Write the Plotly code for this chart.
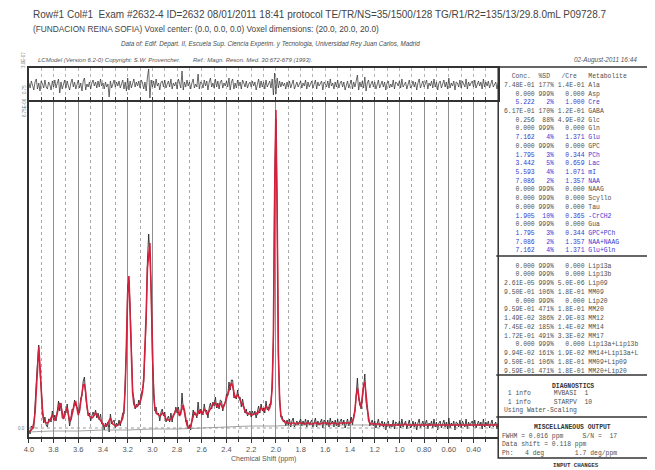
import numpy as np
import plotly.graph_objects as go

# browser window 655x470; the page body has an 8 px default margin
WIN_W, WIN_H = 655, 470
OFF = 8
W, H = WIN_W - OFF, WIN_H - OFF

# ---------------- data ----------------
# chemical-shift grid 4.00 -> 0.20 ppm (0.01 ppm step)
ppm = np.round(np.arange(400, 19, -1) / 100.0, 2)

# LCModel fit (red), in plot units (baseline zero = 0)
fit = [
    -4, -3, -2, 0, 5, 15, 40, 70, 81, 62,
    32, 15, 8, 6, 5, 5, 6, 8, 11, 13,
    10, 8, 10, 15, 21, 25, 22, 14, 9, 12,
    18, 20, 13, 7, 8, 13, 20, 25, 26, 20,
    13, 18, 28, 38, 43, 44, 36, 22, 14, 12,
    11, 10, 11, 13, 15, 13, 11, 10, 8, 5,
    3, 2, 2, 3, 5, 8, 10, 7, 4, 3,
    2, 2, 3, 4, 5, 7, 10, 18, 40, 85,
    135, 152, 118, 65, 35, 24, 21, 21, 22, 24,
    26, 30, 36, 50, 75, 115, 160, 178, 185, 135,
    70, 33, 20, 15, 14, 13, 12, 13, 15, 14,
    11, 9, 8, 8, 8, 9, 10, 12, 15, 18,
    19, 15, 12, 16, 21, 23, 16, 8, 3, 0,
    0, 2, 6, 12, 16, 14, 12, 15, 18, 16,
    14, 16, 19, 17, 14, 15, 17, 18, 21, 24,
    25, 25, 22, 21, 23, 25, 22, 20, 22, 26,
    30, 34, 39, 43, 45, 42, 34, 30, 32, 33,
    31, 28, 25, 24, 20, 17, 15, 15, 14, 14,
    13, 13, 14, 14, 15, 14, 16, 18, 20, 19,
    17, 19, 22, 20, 18, 20, 26, 40, 95, 235,
    318, 215, 75, 28, 13, 9, 7, 6, 6, 5,
    5, 5, 4, 5, 5, 5, 4, 4, 5, 5,
    5, 5, 5, 4, 4, 5, 5, 5, 4, 4,
    4, 5, 5, 5, 4, 4, 4, 5, 5, 5,
    5, 5, 4, 4, 4, 5, 5, 5, 5, 4,
    4, 4, 5, 5, 5, 5, 5, 5, 5, 5,
    5, 6, 7, 10, 18, 32, 40, 33, 23, 21,
    30, 43, 46, 32, 16, 8, 5, 4, 4, 4,
    4, 4, 4, 4, 4, 3, 3, 3, 3, 3,
    3, 3, 3, 3, 3, 3, 3, 3, 3, 3,
    3, 3, 3, 3, 4, 4, 3, 3, 3, 3,
    3, 3, 3, 3, 3, 3, 3, 3, 3, 3,
    3, 3, 3, 3, 3, 3, 3, 3, 3, 3,
    3, 3, 3, 3, 3, 3, 3, 3, 3, 3,
    3, 3, 3, 3, 3, 3, 3, 3, 3, 3,
    3, 3, 3, 3, 3, 3, 3, 3, 3, 3,
    3, 3, 3, 3, 3, 3, 3, 3, 3, 3,
    3, 3, 3, 3, 3, 3, 3, 3, 3, 3,
    3,
]

# residual (data - fit), top panel
resid = [
    2, -3, 4, -1, -5, 3, 6, -4, 2, -6,
    4, 1, -3, 5, -2, -4, 3, 0, -5, 4,
    -2, 5, -3, 2, 6, -8, 3, -4, 1, 5,
    -3, 4, -1, -5, 2, 6, -2, 3, -4, 1,
    5, -3, 2, -6, 4, 7, -5, 1, -2, 3,
    -4, 2, 5, -1, 3, -3, 4, -2, 6, -1,
    2, -4, 3, -2, 1, -12, 4, -3, 2, 5,
    -2, 3, -1, 4, -3, 2, 5, -4, 3, -6,
    7, -5, 4, -3, 2, 6, -2, 3, -1, 4,
    -3, 5, 2, -4, 3, -6, 8, 16, -13, 5,
    -2, 4, -3, 6, -1, 2, -5, 3, 4, -2,
    5, -3, 1, 4, -2, 6, -4, 2, -1, 3,
    -4, 6, 2, -3, 14, -5, 3, -2, 5, -1,
    3, -4, 2, 6, -3, 1, -2, 11, -4, 3,
    2, -3, 5, -1, 4, -5, 3, 7, -2, 2,
    -3, 6, -2, 4, -4, 3, 5, -3, 2, -1,
    4, -2, 7, -5, 3, 6, -4, 2, -3, 5,
    -1, 3, -4, 5, 2, -2, 4, -3, 1, 3,
    -2, 4, -1, 3, -5, 2, 6, -3, 4, -2,
    3, -4, 5, -2, 2, 4, -3, 6, -10, 12,
    -9, 7, -3, 4, -2, 3, -1, 2, -4, 3,
    -2, 4, -3, 2, 5, -4, 1, 3, -2, 2,
    4, -3, 2, -1, 5, -4, 3, -2, 1, 4,
    -3, 2, 5, -4, 3, -1, 2, 4, -5, 3,
    1, -2, 4, -3, 6, -1, 2, -4, 3, -2,
    5, -3, 2, 4, -2, 3, -5, 1, 4, -3,
    2, 5, -4, 3, -2, 6, 10, -5, 3, -2,
    4, -3, 8, -6, 2, 5, -3, 1, 4, -2,
    3, -4, 2, 5, -3, 1, 4, -2, 3, -5,
    2, 4, -3, 1, -2, 5, -4, 3, 2, -1,
    4, -3, 6, -2, 1, 3, -4, 2, 5, -3,
    -1, 4, -2, 3, -5, 2, 6, -3, 1, 4,
    -2, 3, 5, -4, 2, -1, 4, -3, 6, -2,
    3, -5, 2, 4, -3, 1, 5, -2, 3, -4,
    7, -3, 2, -1, 4, -5, 3, 2, -2, 5,
    -3, 4, 1, -2, 6, -4, 3, -1, 2, 4,
    -2, 5, -3, 2, 4, -1, 3, -4, 6, -2,
    3, -1, 4, -3, 2, 5, -2, 1, 3, -4,
    2,
]

# estimated baseline (thin grey)
bl_ppm = [4.0, 3.8, 3.6, 3.4, 3.2, 3.0, 2.8, 2.6, 2.4, 2.2,
          2.0, 1.8, 1.6, 1.4, 1.2, 1.0, 0.8, 0.6, 0.4, 0.2]
bl_val = [-4, -3, -3, -2, -2, -1, -1, 0, 1, 2,
          2, 3, 3, 3, 3, 3, 3, 3, 3, 3]

x_tickvals = [4.0, 3.8, 3.6, 3.4, 3.2, 3.0, 2.8, 2.6, 2.4, 2.2,
              2.0, 1.8, 1.6, 1.4, 1.2, 1.0, 0.8, 0.6, 0.4]
x_ticktext = ["4.0", "3.8", "3.6", "3.4", "3.2", "3.0", "2.8", "2.6", "2.4", "2.2",
              "2.0", "1.8", "1.6", "1.4", "1.2", "1.0", "0.80", "0.60", "0.40"]

# concentration table
met_names = ["Ala", "Asp", "Cre", "GABA", "Glc", "Gln", "Glu", "GPC", "PCh", "Lac",
             "mI", "NAA", "NAAG", "Scyllo", "Tau", "-CrCH2", "Gua", "GPC+PCh",
             "NAA+NAAG", "Glu+Gln"]
met_conc = ["7.48E-01", "0.000", "5.222", "6.17E-01", "0.256", "0.000", "7.162", "0.000",
            "1.795", "3.442", "5.593", "7.086", "0.000", "0.000", "0.000", "1.905",
            "0.000", "1.795", "7.086", "7.162"]
met_sd = [177, 999, 2, 170, 88, 999, 4, 999, 3, 5, 4, 2, 999, 999, 999, 10, 999, 3, 2, 4]
met_ratio = ["1.4E-01", "0.000", "1.000", "1.2E-01", "4.9E-02", "0.000", "1.371", "0.000",
             "0.344", "0.659", "1.071", "1.357", "0.000", "0.000", "0.000", "0.365",
             "0.000", "0.344", "1.357", "1.371"]

lip_names = ["Lip13a", "Lip13b", "Lip09", "MM09", "Lip20", "MM20", "MM12", "MM14", "MM17",
             "Lip13a+Lip13b", "MM14+Lip13a+L", "MM09+Lip09", "MM20+Lip20"]
lip_conc = ["0.000", "0.000", "2.61E-05", "9.50E-01", "0.000", "9.59E-01", "1.49E-02",
            "7.45E-02", "1.72E-01", "0.000", "9.94E-02", "9.50E-01", "9.59E-01"]
lip_sd = [999, 999, 999, 106, 999, 471, 386, 185, 491, 999, 161, 106, 471]
lip_ratio = ["0.000", "0.000", "5.0E-06", "1.8E-01", "0.000", "1.8E-01", "2.9E-03",
             "1.4E-02", "3.3E-02", "0.000", "1.9E-02", "1.8E-01", "1.8E-01"]

diag_lines = [" 1 info      MVBASI  1", " 1 info      STARPV  10", "Using Water-Scaling"]
misc_lines = ["FWHM = 0.016 ppm     S/N =  17", "Data shift = 0.118 ppm",
              "Ph:   4 deg        1.7 deg/ppm"]

header_lines = [
    "Row#1 Col#1  Exam #2632-4 ID=2632 08/01/2011 18:41 protocol TE/TR/NS=35/1500/128 TG/R1/R2=135/13/29.8.0mL P09728.7",
    "(FUNDACION REINA SOFIA) Voxel center: (0.0, 0.0, 0.0) Voxel dimensions: (20.0, 20.0, 20.0)",
]
data_of = "Data of: Edif. Depart. II, Escuela Sup. Ciencia Experim. y Tecnologia, Universidad Rey Juan Carlos, Madrid"
credit = "LCModel (Version 6.2-0) Copyright: S.W. Provencher."
ref = "Ref.: Magn. Reson. Med. 30:672-679 (1993)."
date_txt = "02-August-2011 16:44"

assert len(fit) == len(ppm) == len(resid)
fit_a = np.array(fit, dtype=float)
data = fit_a + np.array(resid, dtype=float)

# ---------------- layout helpers (window pixels -> paper) ----------------
def px(x):
    return (x - OFF) / W

def py(y):
    return 1 - (y - OFF) / H

L, R = 24, 497
MAIN_TOP, MAIN_BOT = 100, 437
RES_TOP = 68

fig = go.Figure()
fig.add_trace(go.Scatter(x=ppm, y=data, mode="lines", line=dict(color="#2a2a2a", width=0.9),
                         xaxis="x", yaxis="y", hoverinfo="skip"))
fig.add_trace(go.Scatter(x=bl_ppm, y=bl_val, mode="lines", line=dict(color="#8a8a8a", width=0.8),
                         line_shape="spline", xaxis="x", yaxis="y", hoverinfo="skip"))
fig.add_trace(go.Scatter(x=ppm, y=fit_a, mode="lines", line=dict(color="#d4203c", width=1.6),
                         xaxis="x", yaxis="y", hoverinfo="skip"))
fig.add_trace(go.Scatter(x=ppm, y=resid, mode="lines", line=dict(color="#3a3a3a", width=0.75),
                         xaxis="x2", yaxis="y2", hoverinfo="skip"))

fig.update_layout(
    width=W, height=H, margin=dict(l=0, r=0, t=0, b=0),
    paper_bgcolor="white", plot_bgcolor="white", showlegend=False,
    font=dict(family="Liberation Sans, Arial, sans-serif", color="#444"),
    xaxis=dict(domain=[px(L), px(R)], range=[4.0, 0.2], anchor="y",
               tickmode="array", tickvals=x_tickvals, ticktext=x_ticktext,
               ticks="outside", ticklen=4, tickcolor="#333", tickwidth=1,
               tickfont=dict(size=7.5, color="#555"),
               showline=True, linecolor="#333", linewidth=1.6,
               showgrid=True, gridcolor="#8f8f8f", gridwidth=1.3, zeroline=False,
               minor=dict(tickmode="linear", tick0=0, dtick=0.1, showgrid=True,
                          griddash="dot", gridcolor="#a8a8a8", gridwidth=1,
                          ticks="outside", ticklen=3, tickcolor="#333")),
    yaxis=dict(domain=[py(MAIN_BOT), py(MAIN_TOP)], range=[-9, 328], anchor="x",
               showticklabels=False, showgrid=False, zeroline=False,
               showline=True, linecolor="#333", linewidth=1.6, ticks=""),
    xaxis2=dict(domain=[px(L), px(R)], range=[4.0, 0.2], anchor="y2", matches="x",
                showticklabels=False, tickmode="linear", tick0=0, dtick=0.1,
                ticks="inside", ticklen=3, tickcolor="#333",
                showgrid=True, gridcolor="#b5b5b5", griddash="dot", gridwidth=1,
                showline=True, mirror=True, linecolor="#333", linewidth=1.6, zeroline=False),
    yaxis2=dict(domain=[py(MAIN_TOP), py(RES_TOP)], range=[-15, 17], anchor="x2",
                showticklabels=False, showgrid=False, zeroline=False,
                showline=True, mirror=True, linecolor="#333", linewidth=1.6),
)

shapes = []
# dotted zero line in the main panel
shapes.append(dict(type="line", xref="x domain", yref="y", x0=0, x1=1, y0=0, y1=0,
                   line=dict(color="#999", width=1, dash="dot")))
# results table frame and dividers
TB_L, TB_R, TB_T, TB_B = 497, 648, 67, 458
shapes.append(dict(type="rect", xref="paper", yref="paper", x0=px(TB_L), x1=px(TB_R),
                   y0=py(TB_B), y1=py(TB_T), line=dict(color="#333", width=1.5)))
for yd in [256, 375, 417]:
    shapes.append(dict(type="line", xref="paper", yref="paper", x0=px(TB_L - 2), x1=px(TB_R),
                       y0=py(yd), y1=py(yd), line=dict(color="#333", width=1.5)))
fig.update_layout(shapes=shapes)

ann = []
def txt(x, y, s, size=7, color="#444", anchor="left", family=None, italic=False,
        bold=False, angle=0):
    if bold:
        s = "<b>" + s + "</b>"
    if italic:
        s = "<i>" + s + "</i>"
    f = dict(size=size, color=color)
    if family:
        f["family"] = family
    ann.append(dict(x=px(x), y=py(y), xref="paper", yref="paper", text=s,
                    showarrow=False, xanchor=anchor, yanchor="middle", font=f,
                    textangle=angle, borderpad=0))

MONO = "Liberation Mono, Courier New, monospace"
nb = lambda s: s.replace(" ", "\u00a0")

txt(27, 14, header_lines[0], size=10, color="#444")
txt(27, 29, header_lines[1], size=8.3, color="#444")
txt(268, 44, data_of, size=6.3, color="#4a4a4a", anchor="center", italic=True)
txt(32, 60, credit, size=6.0, italic=True, color="#555")
txt(188, 60, ref, size=6.0, italic=True, color="#555")
txt(638, 60, date_txt, size=6.4, italic=True, color="#555", anchor="right")

# small rotated axis annotations at far left
txt(19, 60, "3.0E-07", size=4.5, color="#777", anchor="center", angle=-90)
txt(19, 89, "0.75", size=4.5, color="#777", anchor="center", angle=-90)
txt(19, 107, "6.75E-06", size=4.5, color="#777", anchor="center", angle=-90)
txt(17, 428, "0.0", size=4.5, color="#777", anchor="center")

# x-axis title
txt((L + R) / 2, 459, "Chemical Shift (ppm)", size=7, color="#555", anchor="center")

BLUE, GREY = "#3838d0", "#505050"
TX = 502
ROW = 8.7
FS = 6.4
txt(TX, 76, nb("  Conc.  %SD   /Cre   Metabolite"), size=FS, family=MONO, color=GREY)

def row_str(c, sd, r, n):
    return f"{c:>8} {str(sd) + '%':>4} {r:>7} {n}"

for i, n in enumerate(met_names):
    col = BLUE if met_sd[i] <= 20 else GREY
    txt(TX, 85.5 + i * ROW, nb(row_str(met_conc[i], met_sd[i], met_ratio[i], n)),
        size=FS, family=MONO, color=col)
for i, n in enumerate(lip_names):
    col = BLUE if lip_sd[i] <= 20 else GREY
    txt(TX, 266 + i * 8.75, nb(row_str(lip_conc[i], lip_sd[i], lip_ratio[i], n)),
        size=FS, family=MONO, color=col)

txt(572, 386, "DIAGNOSTICS", size=FS, family=MONO, color="#333", anchor="center", bold=True)
for i, s in enumerate(diag_lines):
    txt(502, 393.5 + i * 8.5, nb(s), size=FS, family=MONO, color=GREY)
txt(572, 427, "MISCELLANEOUS OUTPUT", size=FS, family=MONO, color="#333", anchor="center", bold=True)
for i, s in enumerate(misc_lines):
    txt(500, 436 + i * 8.5, nb(s), size=FS, family=MONO, color=GREY)
txt(575, 465, "INPUT CHANGES", size=5.8, family=MONO, color="#333", anchor="center", bold=True)

fig.update_layout(annotations=ann)
fig.write_html("out.html")
